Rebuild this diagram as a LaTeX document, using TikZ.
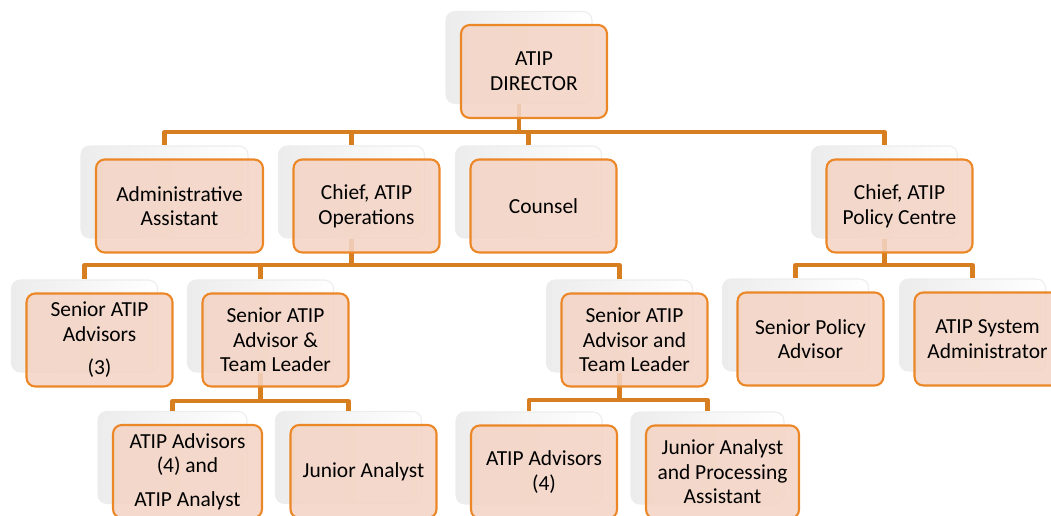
\documentclass[tikz,border=0pt]{standalone}
\usepackage{fontspec}
\setmainfont{Carlito}
\usetikzlibrary{calc}
\definecolor{peach}{RGB}{243,212,197}
\definecolor{boxedge}{RGB}{236,135,40}
\definecolor{linkorange}{RGB}{214,126,32}

\tikzset{
  unit/.style={draw=boxedge, fill=peach, fill opacity=0.88, text opacity=1,
    line width=1.2pt, rounded corners=5pt, align=center,
    minimum width=2.92cm, minimum height=1.86cm,
    font=\fontsize{12.2}{14}\selectfont},
  card/.style={draw=gray!14, line width=0.6pt, rounded corners=5pt,
    left color=gray!15, right color=white,
    minimum width=2.92cm, minimum height=1.84cm},
  link/.style={draw=linkorange, line width=2.3pt, line join=round}
}

\begin{document}
\begin{tikzpicture}[x=0.02cm, y=-0.02cm]
  \useasboundingbox (0,0) rectangle (1051,516);
  \clip (0,0) rectangle (1051,516);

      \coordinate (pDir) at (534,71.5);

      \coordinate (pAdmin) at (179.5,206);
      \coordinate (pOps) at (366.5,206);
      \coordinate (pCounsel) at (543.5,206);
      \coordinate (pPol) at (899.5,206);

      \coordinate (pSrAdv) at (99.5,340);
      \coordinate (pLeadA) at (275.5,340);
      \coordinate (pLeadB) at (634.5,340);
      \coordinate (pPolAdv) at (810.5,339);
      \coordinate (pSysAdm) at (987.5,339);

      \coordinate (pAdvA) at (187.5,471.5);
      \coordinate (pJrA) at (363.5,471.5);
      \coordinate (pAdvB) at (544,472);
      \coordinate (pJrB) at (722.5,472);

      % bus lines
      \coordinate (busTop) at (0,132);
      \coordinate (busMid) at (0,265);
      \coordinate (busLowA) at (0,401);
      \coordinate (busLowB) at (0,400);

      % CARTES ARRIERE
      \node[card] (dirS) at ($(pDir)+(-15,-14)$) {};
      \node[card, minimum width=3.34cm] (adminS) at ($(pAdmin)+(-15,-14)$) {};
      \node[card] (opsS) at ($(pOps)+(-15,-14)$) {};
      \node[card] (counselS) at ($(pCounsel)+(-15,-14)$) {};
      \node[card] (polS) at ($(pPol)+(-15,-14)$) {};
      \node[card] (srAdvS) at ($(pSrAdv)+(-15,-14)$) {};
      \node[card] (leadAS) at ($(pLeadA)+(-15,-14)$) {};
      \node[card] (leadBS) at ($(pLeadB)+(-15,-14)$) {};
      \node[card] (polAdvS) at ($(pPolAdv)+(-15,-14)$) {};
      \node[card] (sysAdmS) at ($(pSysAdm)+(-15,-14)$) {};
      \node[card, minimum width=2.98cm] (advAS) at ($(pAdvA)+(-15,-14)$) {};
      \node[card] (jrAS) at ($(pJrA)+(-15,-14)$) {};
      \node[card] (advBS) at ($(pAdvB)+(-15,-14)$) {};
      \node[card, minimum width=3.06cm] (jrBS) at ($(pJrB)+(-15,-14)$) {};

      % LIAISONS
      \draw[link] (dirS.south) -- (dirS.south |- busTop) -| (adminS.north);
      \draw[link] (dirS.south) -- (dirS.south |- busTop) -| (opsS.north);
      \draw[link] (dirS.south) -- (dirS.south |- busTop) -| (counselS.north);
      \draw[link] (dirS.south) -- (dirS.south |- busTop) -| (polS.north);

      \draw[link] (opsS.south) -- (opsS.south |- busMid) -| (srAdvS.north);
      \draw[link] (opsS.south) -- (opsS.south |- busMid) -| (leadAS.north);
      \draw[link] (opsS.south) -- (opsS.south |- busMid) -| (leadBS.north);

      \draw[link] (polS.south) -- (polS.south |- busMid) -| (polAdvS.north);
      \draw[link] (polS.south) -- (polS.south |- busMid) -| (sysAdmS.north);

      \draw[link] (leadAS.south) -- (leadAS.south |- busLowA) -| (advAS.north);
      \draw[link] (leadAS.south) -- (leadAS.south |- busLowA) -| (jrAS.north);

      \draw[link] (leadBS.south) -- (leadBS.south |- busLowB) -| (advBS.north);
      \draw[link] (leadBS.south) -- (leadBS.south |- busLowB) -| (jrBS.north);

      % BOITES
      \node[unit] (dir) at (pDir) {ATIP\\DIRECTOR};

      \node[unit, minimum width=3.34cm] (admin) at (pAdmin) {Administrative\\Assistant};
      \node[unit] (ops) at (pOps) {Chief, ATIP\\Operations};
      \node[unit] (counsel) at (pCounsel) {Counsel};
      \node[unit] (pol) at (pPol) {Chief, ATIP\\Policy Centre};

      \node[unit] (srAdv) at (pSrAdv) {Senior ATIP\\Advisors\\[5pt](3)};
      \node[unit] (leadA) at (pLeadA) {Senior ATIP\\Advisor \&\\Team Leader};
      \node[unit] (leadB) at (pLeadB) {Senior ATIP\\Advisor and\\Team Leader};
      \node[unit] (polAdv) at (pPolAdv) {Senior Policy\\Advisor};
      \node[unit] (sysAdm) at (pSysAdm) {ATIP System\\Administrator};

      \node[unit, minimum width=2.98cm] (advA) at (pAdvA) {ATIP Advisors\\(4) and\\[5pt]ATIP Analyst};
      \node[unit] (jrA) at (pJrA) {Junior Analyst};
      \node[unit] (advB) at (pAdvB) {ATIP Advisors\\(4)};
      \node[unit, minimum width=3.06cm] (jrB) at (pJrB) {Junior Analyst\\and Processing\\Assistant};
\end{tikzpicture}
\end{document}
